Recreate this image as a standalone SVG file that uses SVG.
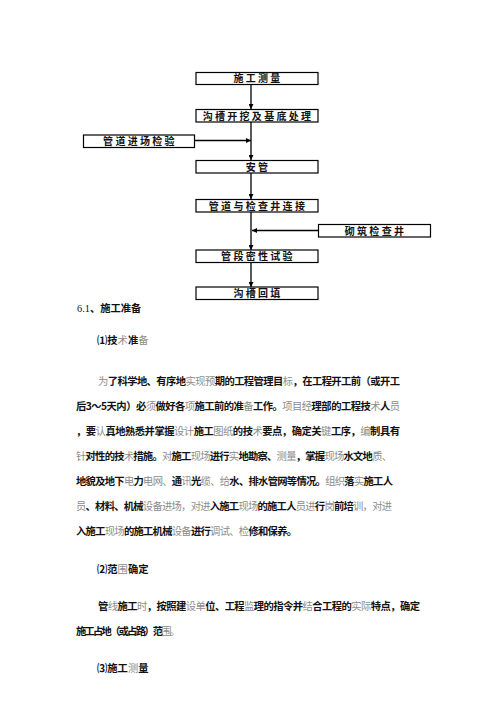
<svg xmlns="http://www.w3.org/2000/svg" width="500" height="708" viewBox="0 0 500 708">
<style>
.box{fill:#fff;stroke:#000;stroke-width:1.2}
.bt{font-family:"Noto Sans CJK SC","Noto Sans CJK JP",sans-serif;font-size:10px;font-weight:700;fill:#111;text-anchor:middle;letter-spacing:2.3px}
.ln{stroke:#000;stroke-width:1.3;fill:none}
.body{font-family:"Noto Sans CJK SC","Noto Sans CJK JP",sans-serif;font-size:10.3px}
.b{font-weight:700;fill:#111}
.g{font-weight:400;fill:#8c8c8c}
.r{font-family:"Liberation Serif",serif;font-weight:400;fill:#111}
</style>
<defs>
<marker id="ah" viewBox="0 0 10 10" refX="10" refY="5" markerWidth="5" markerHeight="5" orient="auto" markerUnits="userSpaceOnUse">
<path d="M0,0 L10,5 L0,10 z" fill="#000"/>
</marker>
</defs>
<rect width="500" height="708" fill="#fff"/>

<g id="connectors">
<line class="ln" x1="251" y1="85" x2="251" y2="109" marker-end="url(#ah)"/>
<line class="ln" x1="251" y1="122" x2="251" y2="160" marker-end="url(#ah)"/>
<line class="ln" x1="194" y1="140.5" x2="251" y2="140.5" marker-end="url(#ah)"/>
<line class="ln" x1="251" y1="173" x2="251" y2="199" marker-end="url(#ah)"/>
<line class="ln" x1="251" y1="212" x2="251" y2="250" marker-end="url(#ah)"/>
<line class="ln" x1="318" y1="230.5" x2="252" y2="230.5" marker-end="url(#ah)"/>
<line class="ln" x1="251" y1="262" x2="251" y2="287" marker-end="url(#ah)"/>
</g>

<g id="n1"><rect class="box" x="196" y="72.5" width="122" height="12"/><text class="bt" x="258" y="82">施工测量</text></g>
<g id="n2"><rect class="box" x="196" y="109.5" width="122" height="12.5"/><text class="bt" x="258" y="119.5">沟槽开挖及基底处理</text></g>
<g id="n3"><rect class="box" x="83.5" y="135" width="111" height="12.5"/><text class="bt" x="140" y="145">管道进场检验</text></g>
<g id="n4"><rect class="box" x="196" y="160.5" width="122" height="12.5"/><text class="bt" x="258" y="170.5">安管</text></g>
<g id="n5"><rect class="box" x="196" y="199.5" width="122" height="12.5"/><text class="bt" x="258" y="209.5">管道与检查井连接</text></g>
<g id="n6"><rect class="box" x="318.5" y="224.5" width="112" height="12.5"/><text class="bt" x="375.5" y="234.5">砌筑检查井</text></g>
<g id="n7"><rect class="box" x="196" y="250" width="122" height="12.5"/><text class="bt" x="258" y="260">管段密性试验</text></g>
<g id="n8"><rect class="box" x="196" y="287" width="122" height="12.5"/><text class="bt" x="258" y="297">沟槽回填</text></g>

<g id="body" class="body">
<text x="77" y="312"><tspan class="r">6.1</tspan><tspan class="b">、施工准备</tspan></text>
<text x="97" y="344"><tspan class="b">⑴技</tspan><tspan class="g">术</tspan><tspan class="b">准</tspan><tspan class="g">备</tspan></text>

<text x="98" y="385" textLength="302" lengthAdjust="spacing"><tspan class="g">为</tspan><tspan class="b">了科学地、有序地</tspan><tspan class="g">实现预</tspan><tspan class="b">期的工程管理目</tspan><tspan class="g">标</tspan><tspan class="b">，在工程开工前（或开工</tspan></text>
<text x="76" y="410" textLength="324" lengthAdjust="spacing"><tspan class="b">后3～5天内）必</tspan><tspan class="g">须</tspan><tspan class="b">做好各</tspan><tspan class="g">项</tspan><tspan class="b">施工前的准</tspan><tspan class="g">备</tspan><tspan class="b">工作。</tspan><tspan class="g">项目经</tspan><tspan class="b">理部的工程技</tspan><tspan class="g">术</tspan><tspan class="b">人</tspan><tspan class="g">员</tspan></text>
<text x="76" y="435" textLength="324" lengthAdjust="spacing"><tspan class="b">，要</tspan><tspan class="g">认</tspan><tspan class="b">真地熟悉并掌握</tspan><tspan class="g">设计</tspan><tspan class="b">施工</tspan><tspan class="g">图纸</tspan><tspan class="b">的技</tspan><tspan class="g">术</tspan><tspan class="b">要点，确定关</tspan><tspan class="g">键</tspan><tspan class="b">工序，</tspan><tspan class="g">编</tspan><tspan class="b">制具有</tspan></text>
<text x="76" y="460" textLength="316" lengthAdjust="spacing"><tspan class="g">针</tspan><tspan class="b">对性的技</tspan><tspan class="g">术</tspan><tspan class="b">措施。</tspan><tspan class="g">对</tspan><tspan class="b">施工</tspan><tspan class="g">现场</tspan><tspan class="b">进行</tspan><tspan class="g">实</tspan><tspan class="b">地勘察、</tspan><tspan class="g">测量</tspan><tspan class="b">，掌握</tspan><tspan class="g">现场</tspan><tspan class="b">水文地</tspan><tspan class="g">质、</tspan></text>
<text x="76" y="485" textLength="317" lengthAdjust="spacing"><tspan class="b">地貌及地下</tspan><tspan class="g">电</tspan><tspan class="b">力</tspan><tspan class="g">电网、</tspan><tspan class="b">通</tspan><tspan class="g">讯</tspan><tspan class="b">光</tspan><tspan class="g">缆、给</tspan><tspan class="b">水、排水管网等情况。</tspan><tspan class="g">组织</tspan><tspan class="b">落</tspan><tspan class="g">实</tspan><tspan class="b">施工人</tspan></text>
<text x="76" y="510" textLength="316" lengthAdjust="spacing"><tspan class="g">员</tspan><tspan class="b">、材料、机械</tspan><tspan class="g">设备进场，对进</tspan><tspan class="b">入施工</tspan><tspan class="g">现场</tspan><tspan class="b">的施工人</tspan><tspan class="g">员进</tspan><tspan class="b">行</tspan><tspan class="g">岗</tspan><tspan class="b">前培</tspan><tspan class="g">训，对进</tspan></text>
<text x="76" y="535" textLength="221" lengthAdjust="spacing"><tspan class="b">入施工</tspan><tspan class="g">现场</tspan><tspan class="b">的施工机械</tspan><tspan class="g">设备</tspan><tspan class="b">进行</tspan><tspan class="g">调试、检</tspan><tspan class="b">修和保养。</tspan></text>

<text x="97" y="573"><tspan class="b">⑵范</tspan><tspan class="g">围</tspan><tspan class="b">确定</tspan></text>
<text x="98" y="610" textLength="322" lengthAdjust="spacing"><tspan class="b">管</tspan><tspan class="g">线</tspan><tspan class="b">施工</tspan><tspan class="g">时</tspan><tspan class="b">，按照建</tspan><tspan class="g">设单</tspan><tspan class="b">位、工程</tspan><tspan class="g">监</tspan><tspan class="b">理的指令并</tspan><tspan class="g">结</tspan><tspan class="b">合工程的</tspan><tspan class="g">实际</tspan><tspan class="b">特点，确定</tspan></text>
<text x="76" y="635" textLength="104" lengthAdjust="spacing"><tspan class="b">施工占地（或占路）范</tspan><tspan class="g">围。</tspan></text>
<text x="97" y="672"><tspan class="b">⑶施工</tspan><tspan class="g">测</tspan><tspan class="b">量</tspan></text>
</g>
</svg>
